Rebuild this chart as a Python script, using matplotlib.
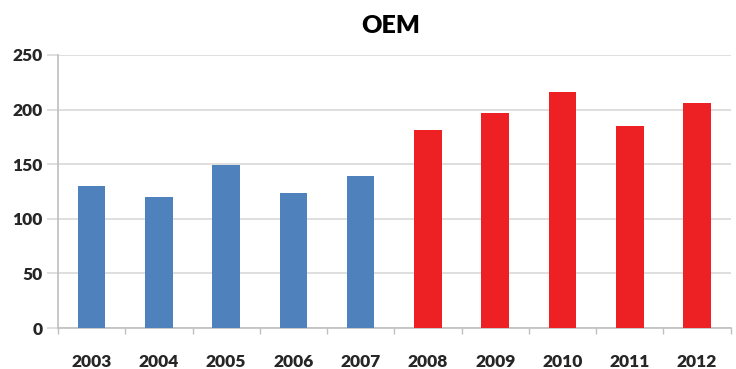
import matplotlib
matplotlib.use("Agg")
import matplotlib.pyplot as plt
import numpy as np

years = ["2003", "2004", "2005", "2006", "2007", "2008", "2009", "2010", "2011", "2012"]
values = [130, 120, 149, 124, 139, 181, 197, 216, 185, 206]
bar_colors = ["#4F81BD"] * 5 + ["#ED2024"] * 5
y_ticks = [0, 50, 100, 150, 200, 250]

plt.rcParams["font.family"] = ["Lato", "DejaVu Sans"]

fig = plt.figure(figsize=(7.36, 3.69), dpi=100)
ax = fig.add_axes([0.0788, 0.111, 0.9139, 0.74])

x = np.arange(len(years))
ax.bar(x, values, width=0.41, color=bar_colors, zorder=3)

ax.set_xlim(-0.5, len(years) - 0.5)
ax.set_ylim(0, 250)
ax.set_yticks(y_ticks)
ax.set_yticklabels([str(t) for t in y_ticks], fontsize=12.5, fontweight="heavy", color="#262626")
ax.set_xticks(x)
ax.set_xticklabels(years, fontsize=12.5, fontweight="heavy", color="#262626")

# horizontal gridlines, extending slightly left of the axis as tick marks
ax.grid(axis="y", color="#D9D9D9", linewidth=1.2, zorder=0)
ax.tick_params(axis="y", length=8, color="#D9D9D9", width=1.2, pad=3)
ax.tick_params(axis="x", length=0, pad=19)

# minor ticks between categories on the x axis
ax.set_xticks(np.arange(-0.5, len(years), 1.0), minor=True)
ax.tick_params(axis="x", which="minor", length=4, color="#BFBFBF", width=1)

for side in ["top", "right"]:
    ax.spines[side].set_visible(False)
ax.spines["left"].set_color("#BFBFBF")
ax.spines["bottom"].set_color("#BFBFBF")
ax.spines["left"].set_linewidth(1.2)
ax.spines["bottom"].set_linewidth(1.2)

fig.suptitle("OEM", fontsize=18, fontweight="heavy", color="#000000", y=0.958, x=0.531)

fig.savefig("out.png", dpi=100, facecolor="white")
